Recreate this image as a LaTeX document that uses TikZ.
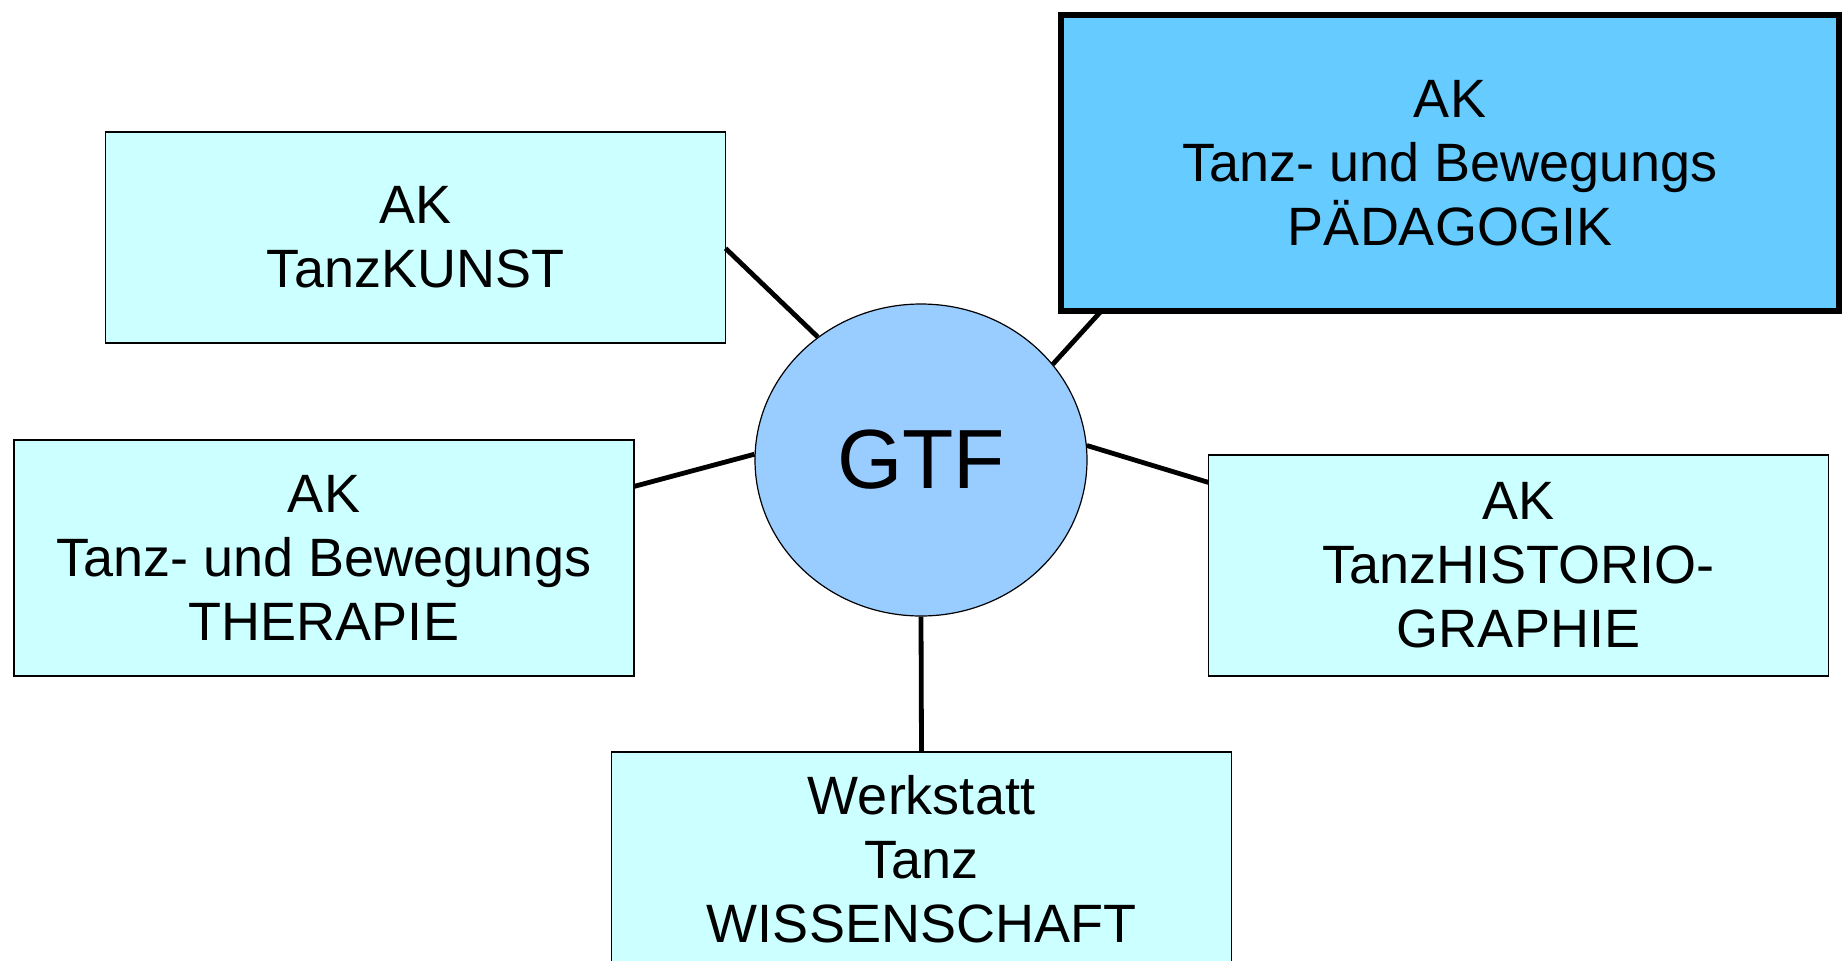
\documentclass[tikz,border=0pt]{standalone}
\usepackage{fontspec}
\setmainfont{Liberation Sans}
\usepackage{tikz}
\usetikzlibrary{positioning}
\usetikzlibrary{shapes.geometric}

\definecolor{boxcyan}{HTML}{CCFFFF}
\definecolor{paedblue}{HTML}{66CCFF}
\definecolor{hubblue}{HTML}{99CCFF}

\begin{document}
\begin{tikzpicture}[
        x = 0.5pt, y = -0.5pt,
        box/.style = {
            draw,
            rectangle,
            fill=boxcyan,
            line width = 0.6pt,
            align = center,
            font = \fontsize{27}{32}\selectfont,
            minimum width = #1,
            inner sep = 0pt,
            outer sep = 0pt
        },
        box/.default = 310pt,
        hub/.style = {
            draw,
            ellipse,
            fill=hubblue,
            line width = 0.6pt,
            minimum width = 166pt,
            minimum height = 156pt,
            inner sep = 0pt,
            font = \fontsize{42}{50}\selectfont
        }
    ]
    \clip (0,0) rectangle (1843,960);
    {\node[hub] (gtf) at (921,460) {GTF};}
    {\node[box, minimum height=105.5pt] (kunst) at (415.5,237.5) {AK\\TanzKUNST};}
    {\node[box=389pt, minimum height=148pt, line width=3.4pt, fill=paedblue] (paed) at (1450,163) {AK\\Tanz- und Bewegungs\\PÄDAGOGIK};}
    {\node[box, minimum height=118pt] (thera) at (324,558) {AK\\Tanz- und Bewegungs\\THERAPIE};}
    {\node[box, minimum height=110.5pt] (hist) at (1518.5,565.5) {AK\\TanzHISTORIO-\\GRAPHIE};}
    {\node[box, minimum height=107pt] (werk) at (921.5,859) {Werkstatt\\Tanz\\WISSENSCHAFT};}
    \draw[line width = 2.4pt] (kunst.-2.3) -- (gtf.130);
    \draw[line width = 2.4pt] (paed.203) -- (gtf.36);
    \draw[line width = 2.4pt] (thera.13) -- (gtf.178);
    \draw[line width = 2.4pt] (hist.165) -- (gtf.5);
    \draw[line width = 2.4pt] (werk.north) -- (gtf.south);
\end{tikzpicture}
\end{document}
